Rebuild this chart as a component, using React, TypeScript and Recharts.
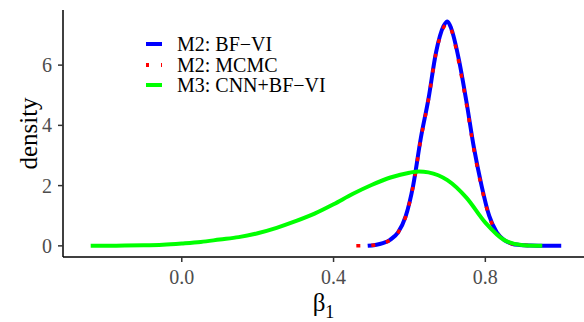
import React from "react";
import { LineChart, Line, XAxis, YAxis } from "recharts";

// M2: BF-VI posterior density of beta_1
const bfviX = [0.49, 0.51, 0.53, 0.55, 0.57, 0.59, 0.61, 0.63, 0.65, 0.67, 0.69, 0.7, 0.71, 0.73, 0.75, 0.77, 0.79, 0.81, 0.83, 0.85, 0.87, 0.89, 0.92, 0.96, 1.0];
const bfviY = [0, 0.03, 0.09, 0.21, 0.45, 0.98, 2.02, 3.58, 4.87, 6.42, 7.3, 7.45, 7.22, 6.2, 4.8, 3.25, 2.0, 1.0, 0.45, 0.19, 0.07, 0.03, 0.01, 0, 0];

// M2: MCMC
const mcmcX = [0.46, 0.49, 0.51, 0.53, 0.55, 0.57, 0.59, 0.61, 0.63, 0.65, 0.67, 0.69, 0.7, 0.71, 0.73, 0.75, 0.77, 0.79, 0.81, 0.83, 0.85, 0.87, 0.89, 0.92];
const mcmcY = [0, 0.01, 0.03, 0.09, 0.2, 0.44, 0.97, 2.0, 3.55, 4.85, 6.4, 7.25, 7.38, 7.18, 6.1, 4.72, 3.18, 1.95, 0.98, 0.44, 0.18, 0.07, 0.03, 0.01];

// M3: CNN+BF-VI
const cnnX = [-0.24, -0.2, -0.15, -0.1, -0.05, 0, 0.05, 0.1, 0.15, 0.2, 0.25, 0.3, 0.35, 0.4, 0.45, 0.5, 0.55, 0.6, 0.625, 0.65, 0.7, 0.75, 0.8, 0.85, 0.9, 0.95];
const cnnY = [0, 0.005, 0.01, 0.02, 0.04, 0.08, 0.13, 0.21, 0.29, 0.42, 0.6, 0.82, 1.07, 1.38, 1.72, 2.02, 2.27, 2.43, 2.47, 2.44, 2.18, 1.6, 0.77, 0.19, 0.02, 0];

const xTicks = [0, 0.4, 0.8];
const yTicks = [0, 2, 4, 6];

const series = [
  { name: "M2: BF\u2212VI", color: "#0000FF", dash: undefined },
  { name: "M2: MCMC", color: "#FF0000", dash: "3 12" },
  { name: "M3: CNN+BF\u2212VI", color: "#00FF00", dash: undefined },
];

const toPoints = (xs: number[], ys: number[]) => xs.map((x, i) => ({ x, y: ys[i] }));

const FONT = "'Liberation Serif', 'Times New Roman', serif";

const LegendBox = () => (
  <div style={{ position: "absolute", left: 140, top: 34, fontFamily: FONT, fontSize: 20, color: "#000" }}>
    {series.map((s) => (
      <div key={s.name} style={{ display: "flex", alignItems: "center", height: 20.5 }}>
        <svg width={37} height={10}>
          <line x1={6} x2={22} y1={5} y2={5} stroke={s.color} strokeWidth={4} strokeDasharray={s.dash} />
        </svg>
        <span style={{ lineHeight: "20px" }}>{s.name}</span>
      </div>
    ))}
  </div>
);

const XTick = (props: any) => {
  const { x, y, payload } = props;
  return (
    <text x={x} y={y + 15} textAnchor="middle" fontFamily={FONT} fontSize={20} fill="#4D4D4D">
      {Number(payload.value).toFixed(1)}
    </text>
  );
};

const YTick = (props: any) => {
  const { x, y, payload } = props;
  return (
    <text x={x - 1} y={y + 7} textAnchor="end" fontFamily={FONT} fontSize={20} fill="#4D4D4D">
      {payload.value}
    </text>
  );
};

const XLabel = (props: any) => {
  const { viewBox } = props;
  const cx = viewBox.x + viewBox.width / 2;
  return (
    <text x={cx} y={311} textAnchor="middle" fontFamily={FONT} fill="#000">
      <tspan fontSize={25}>β</tspan>
      <tspan fontSize={18} dy={7}>1</tspan>
    </text>
  );
};

export default function App() {
  return (
    <div style={{ position: "absolute", left: 0, top: 0, fontFamily: FONT }}>
      <LineChart width={584} height={322} margin={{ top: 10, right: 0, left: 0, bottom: 0 }}>
        <XAxis
          type="number"
          dataKey="x"
          domain={[-0.313, 1.06]}
          ticks={xTicks}
          allowDataOverflow
          height={65}
          tickSize={5}
          tickMargin={7}
          stroke="#000"
          tick={<XTick />}
          axisLine={{ stroke: "#000", strokeWidth: 1.5 }}
          tickLine={{ stroke: "#333", strokeWidth: 1.5 }}
          label={<XLabel />}
        />
        <YAxis
          type="number"
          dataKey="y"
          domain={[-0.37, 7.83]}
          ticks={yTicks}
          allowDataOverflow
          width={63}
          tickSize={5}
          tickMargin={5}
          stroke="#000"
          tick={<YTick />}
          axisLine={{ stroke: "#000", strokeWidth: 1.5 }}
          tickLine={{ stroke: "#333", strokeWidth: 1.5 }}
          label={{
            value: "density",
            angle: -90,
            position: "insideLeft",
            offset: 28,
            style: { textAnchor: "middle", fontSize: 25, fontFamily: FONT, fill: "#000" },
          }}
        />
        <Line
          data={toPoints(bfviX, bfviY)}
          dataKey="y"
          name={series[0].name}
          type="monotone"
          stroke={series[0].color}
          strokeWidth={4}
          dot={false}
          isAnimationActive={false}
        />
        <Line
          data={toPoints(mcmcX, mcmcY)}
          dataKey="y"
          name={series[1].name}
          type="monotone"
          stroke={series[1].color}
          strokeWidth={3.5}
          strokeDasharray="4 11"
          dot={false}
          isAnimationActive={false}
        />
        <Line
          data={toPoints(cnnX, cnnY)}
          dataKey="y"
          name={series[2].name}
          type="monotone"
          stroke={series[2].color}
          strokeWidth={4}
          dot={false}
          isAnimationActive={false}
        />
      </LineChart>
      <LegendBox />
    </div>
  );
}
